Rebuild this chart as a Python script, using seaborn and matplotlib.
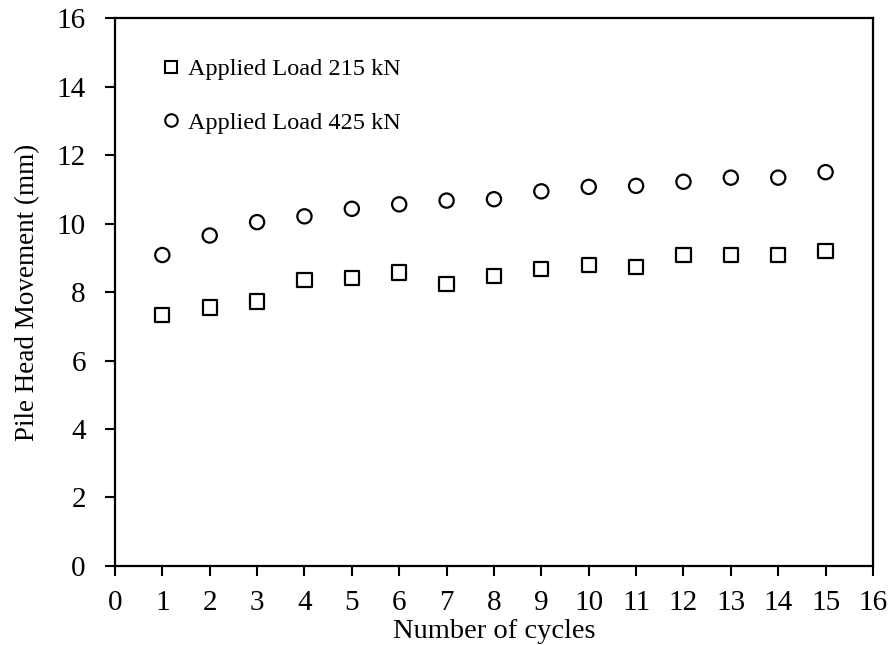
import matplotlib
matplotlib.use("Agg")
import matplotlib.pyplot as plt
import seaborn as sns
import pandas as pd

cycles = list(range(1, 16))
load_215 = [7.33, 7.55, 7.72, 8.35, 8.41, 8.57, 8.23, 8.47, 8.67, 8.79, 8.74, 9.08, 9.08, 9.08, 9.20]
load_425 = [9.08, 9.65, 10.04, 10.21, 10.43, 10.56, 10.67, 10.71, 10.94, 11.07, 11.10, 11.22, 11.34, 11.34, 11.50]
series_names = ["Applied Load 215 kN", "Applied Load 425 kN"]

df = pd.DataFrame({
    "cycle": cycles * 2,
    "movement": load_215 + load_425,
    "series": [series_names[0]] * len(cycles) + [series_names[1]] * len(cycles),
})

sns.set_style("white")
plt.rcParams["font.family"] = ["Liberation Serif", "DejaVu Serif"]
plt.rcParams.update({
    "text.color": "black", "axes.labelcolor": "black",
    "xtick.color": "black", "ytick.color": "black",
})

fig = plt.figure(figsize=(8.96, 6.45), dpi=100)
ax = fig.add_axes([0.1283, 0.1225, 0.8460, 0.8495])

sns.scatterplot(
    data=df, x="cycle", y="movement", style="series",
    markers={series_names[0]: "s", series_names[1]: "o"},
    s=105, facecolor="none", edgecolor="black", linewidth=1.6,
    ax=ax, legend=True,
)

ax.set_xlim(0, 16)
ax.set_ylim(0, 16)
ax.set_xticks(range(0, 17))
ax.set_yticks(range(0, 17, 2))
ax.tick_params(axis="both", direction="out", length=7, width=1.5,
               labelsize=21, bottom=True, left=True)
ax.tick_params(axis="x", pad=10)
ax.tick_params(axis="y", pad=14)
for sp in ax.spines.values():
    sp.set_linewidth(1.6)
    sp.set_color("black")

ax.set_xlabel("Number of cycles", fontsize=20.5)
ax.xaxis.set_label_coords(0.5, -0.097)
ax.set_ylabel("Pile Head Movement (mm)", fontsize=19.5, labelpad=12)

handles, labels = ax.get_legend_handles_labels()
for h in handles:
    h.set_markerfacecolor("none")
    h.set_markeredgecolor("black")
    h.set_markersize(9)
    h.set_markeredgewidth(1.5)
ax.legend(handles, labels, loc="upper left", bbox_to_anchor=(0.029, 0.967),
          frameon=False, fontsize=17.5, handletextpad=0.2, labelspacing=1.3,
          handlelength=1.0)

fig.savefig("out.png", dpi=100)
